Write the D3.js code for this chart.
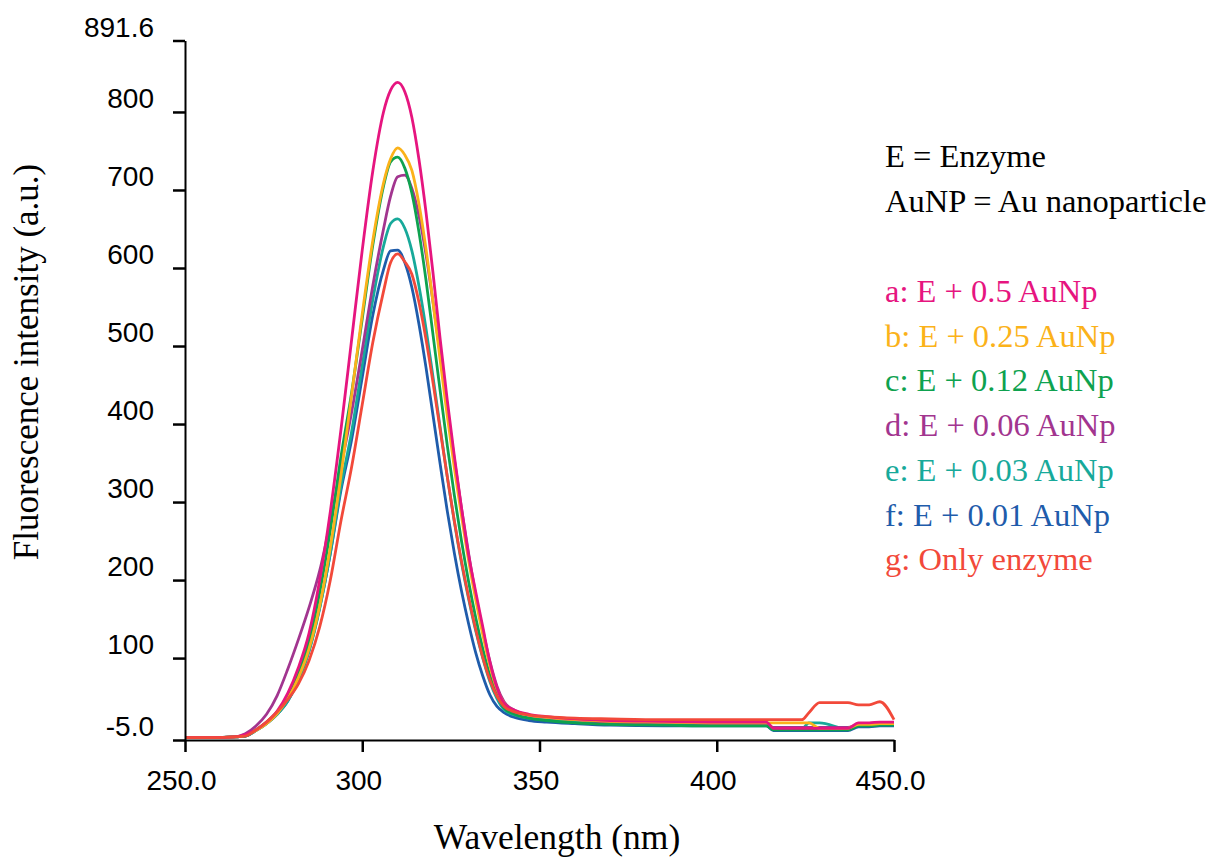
<!DOCTYPE html>
<html>
<head>
<meta charset="utf-8">
<script src="https://cdn.jsdelivr.net/npm/d3@7"></script>
<style>
    body { margin: 0; background: #fff; }
    .axis path, .axis line { stroke: #000; }
    .axis text { font-family: "Liberation Sans", Arial, sans-serif; font-size: 28px; fill: #000; }
    .title, .legend text { font-family: "Liberation Serif", "Times New Roman", serif; fill: #000; }
</style>
</head>
<body>
<div id="chart"></div>
<script>
// wavelength grid (nm) shared by all spectra
const wavelengths = [250, 258, 264, 267, 270, 273, 276, 279, 282, 285, 288, 291, 294, 297, 300, 303, 306, 308, 310,
    312, 314, 316, 318, 320, 322, 324, 326, 328, 330, 332, 334, 336, 338, 340, 343, 347, 352, 360, 370, 385, 400,
    414, 416, 424, 426, 429, 437, 440, 443, 446, 450];

// fluorescence intensity (a.u.)
const seriesA = [-2, -2, -1, 2, 8, 18, 32, 55, 88, 132, 200, 288, 393, 508, 623, 725, 800, 828, 838,
    826, 793, 739, 671, 592, 508, 430, 358, 292, 232, 185, 140, 95, 62, 42,
    33, 28, 25, 22, 20, 19, 18, 18, 10, 10, 10, 10, 10, 17, 17, 18, 18];
const seriesB = [-2, -2, -1, 1, 7, 16, 29, 48, 75, 112, 167, 242, 334, 437, 541, 636, 709, 740, 754,
    745, 725, 682, 624, 555, 481, 410, 343, 282, 225, 175, 130, 90, 60, 42,
    32, 27, 24, 21, 19, 18, 17, 17, 17, 17, 17, 10, 10, 15, 15, 16, 16];
const seriesC = [-2, -2, -1, 0, 8, 18, 31, 50, 80, 122, 184, 264, 358, 440, 535, 630, 705, 736, 742,
    728, 696, 646, 584, 513, 442, 372, 308, 250, 198, 152, 112, 78, 54, 36,
    28, 23, 20, 17, 15, 14, 13, 13, 8, 8, 8, 8, 8, 13, 13, 14, 14];
const seriesD = [-2, -2, -1, 3, 13, 28, 52, 86, 124, 165, 212, 275, 345, 415, 495, 578, 650, 692, 717,
    719, 702, 667, 617, 555, 488, 420, 354, 292, 234, 181, 136, 96, 64, 44,
    33, 27, 24, 21, 18, 17, 16, 16, 11, 11, 11, 11, 11, 15, 15, 16, 16];
const seriesE = [-2, -2, -1, 0, 7, 16, 28, 45, 72, 109, 164, 235, 320, 390, 475, 560, 628, 657, 663,
    651, 622, 577, 522, 459, 395, 332, 274, 222, 176, 135, 100, 70, 48, 34,
    27, 23, 21, 18, 16, 15, 15, 15, 9, 9, 17, 17, 9, 14, 14, 15, 15];
const seriesF = [-2, -2, -1, 0, 7, 16, 28, 45, 72, 110, 165, 234, 315, 380, 460, 540, 598, 622, 623,
    607, 575, 528, 472, 410, 348, 288, 234, 186, 144, 107, 77, 53, 38, 30,
    24, 20, 18, 16, 14, 13, 13, 13, 7, 7, 7, 7, 7, 12, 12, 13, 13];
const seriesG = [-2, -2, -1, 0, 8, 18, 31, 47, 67, 97, 140, 200, 276, 345, 425, 505, 570, 607, 618,
    608, 592, 556, 508, 452, 392, 332, 275, 224, 178, 137, 101, 72, 51, 38,
    31, 27, 25, 23, 22, 21, 21, 21, 21, 21, 30, 43, 43, 40, 40, 44, 21];

const seriesLabels = ["a: E + 0.5 AuNp", "b: E + 0.25 AuNp", "c: E + 0.12 AuNp", "d: E + 0.06 AuNp",
    "e: E + 0.03 AuNp", "f: E + 0.01 AuNp", "g: Only enzyme"];
const noteLines = ["E = Enzyme", "AuNP = Au nanoparticle"];

const xTickValues = [250, 300, 350, 400, 450];
const xTickLabels = ["250.0", "300", "350", "400", "450.0"];
const yTickValues = [-5, 100, 200, 300, 400, 500, 600, 700, 800, 891.6];
const yTickLabels = ["-5.0", "100", "200", "300", "400", "500", "600", "700", "800", "891.6"];

const colors = ["#e6157f", "#fbb21a", "#0ea24f", "#a2358f", "#17a99a", "#1f5cab", "#f2493a"];

const allSeries = [seriesA, seriesB, seriesC, seriesD, seriesE, seriesF, seriesG];

const width = 1213, height = 858;

const svg = d3.select("#chart")
    .append("svg")
    .attr("width", width)
    .attr("height", height);

svg.append("rect").attr("width", width).attr("height", height).attr("fill", "#fff");

const x = d3.scaleLinear().domain([250, 450]).range([185, 894]);
const y = d3.scaleLinear().domain([-5, 891.6]).range([740, 40.5]);

// spectra
const line = d3.line()
    .x(d => x(d[0]))
    .y(d => y(d[1]))
    .curve(d3.curveMonotoneX);

const drawOrder = [5, 4, 3, 2, 1, 0, 6];
drawOrder.forEach(i => {
    svg.append("path")
        .datum(wavelengths.map((w, k) => [w, allSeries[i][k]]))
        .attr("d", line)
        .attr("fill", "none")
        .attr("stroke", colors[i])
        .attr("stroke-width", 2.8)
        .attr("stroke-linejoin", "round");
});

// axes
const xAxisGroup = svg.append("g")
    .attr("class", "axis")
    .attr("transform", "translate(0, 740)")
    .call(d3.axisBottom(x)
        .tickValues(xTickValues)
        .tickFormat((d, i) => xTickLabels[i])
        .tickSizeInner(12)
        .tickSizeOuter(0)
        .tickPadding(18));
xAxisGroup.select(".domain").attr("stroke-width", 2);
xAxisGroup.selectAll(".tick line").attr("stroke-width", 2.5);
xAxisGroup.selectAll(".tick text").attr("dx", "-4");

const yAxisGroup = svg.append("g")
    .attr("class", "axis")
    .attr("transform", "translate(185, 0)")
    .call(d3.axisLeft(y)
        .tickValues(yTickValues)
        .tickFormat((d, i) => yTickLabels[i])
        .tickSizeInner(12)
        .tickSizeOuter(0)
        .tickPadding(19));
yAxisGroup.select(".domain").attr("stroke-width", 2);
yAxisGroup.selectAll(".tick line").attr("stroke-width", 2.5);
yAxisGroup.selectAll(".tick text").attr("dy", "-0.15em");

// axis titles
svg.append("text")
    .attr("class", "title")
    .attr("x", 557)
    .attr("y", 849)
    .attr("text-anchor", "middle")
    .style("font-size", "35.5px")
    .text("Wavelength (nm)");

svg.append("text")
    .attr("class", "title")
    .attr("transform", "translate(38, 362) rotate(-90)")
    .attr("text-anchor", "middle")
    .style("font-size", "35px")
    .text("Fluorescence intensity (a.u.)");

// legend
const legend = svg.append("g").attr("class", "legend");

legend.selectAll(".note")
    .data(noteLines)
    .join("text")
    .attr("class", "note")
    .attr("x", 885)
    .attr("y", (d, i) => 167 + i * 45)
    .style("font-size", "32.5px")
    .text(d => d);

legend.selectAll(".entry")
    .data(seriesLabels)
    .join("text")
    .attr("class", "entry")
    .attr("x", 885)
    .attr("y", (d, i) => 302 + i * 44.7)
    .style("font-size", "32.5px")
    .style("fill", (d, i) => colors[i])
    .text(d => d);
</script>
</body>
</html>
